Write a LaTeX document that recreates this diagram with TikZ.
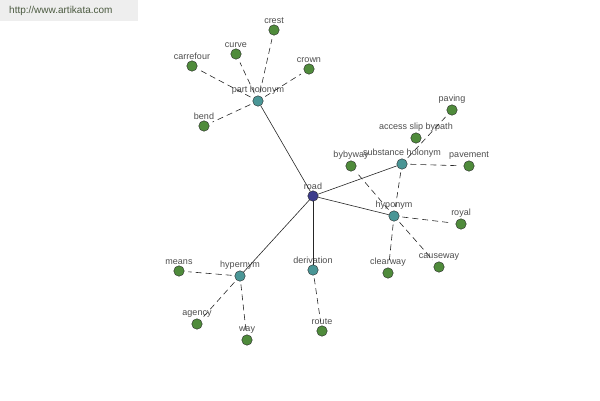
\documentclass[tikz,border=0pt]{standalone}
\usepackage{fontspec}
\setmainfont{Liberation Sans}
\usepackage{xcolor}
\definecolor{leafgreen}{HTML}{4F8B3B}
\definecolor{hubteal}{HTML}{4A9696}
\definecolor{rootblue}{HTML}{3C3C8C}
\definecolor{markgrey}{HTML}{EEEEEE}
\definecolor{marktext}{HTML}{4B5A40}
\tikzset{
    wtext/.style={font=\fontsize{9}{10}\selectfont, text=black!70, inner sep=0.8pt},
    dot/.style={circle, draw=black!85, thin, minimum size=10.5pt, inner sep=0pt,
        label={[wtext, label distance=0pt]above:#1}},
    leaf/.style={dot=#1, fill=leafgreen},
    hub/.style={dot=#1, fill=hubteal},
    rootdot/.style={dot=#1, fill=rootblue},
    rel/.style={black!85, line width=0.6pt},
    sub/.style={black!85, line width=0.6pt, dash pattern=on 6pt off 4pt, shorten >=4pt, shorten <=3pt}
}

\begin{document}
\begin{tikzpicture}[x=1pt, y=-1pt]
    \useasboundingbox (0,0) rectangle (600,400);
    % watermark
    \fill[markgrey] (0,0) rectangle (138,21);
    \node[anchor=west, font=\fontsize{10}{11}\selectfont, text=marktext, inner sep=0pt] (mark) at (9,11) {http://www.artikata.com};
    % root and relation hubs
    \node[rootdot=road] (road) at (313,196) {};
    \node[hub=part holonym] (phol) at (258,101) {};
    \node[hub=substance holonym] (shol) at (402,164) {};
    \node[hub=hyponym] (hypo) at (394,216) {};
    \node[hub=hypernym] (hyper) at (240,276) {};
    \node[hub=derivation] (deriv) at (313,270) {};
    % words
    \foreach \n/\x/\y/\t in {crest/274/30/crest, curve/236/54/curve, carrefour/192/66/carrefour,
        crown/309/69/crown, bend/204/126/bend, paving/452/110/paving,
        access/416/138/access slip bypath, pavement/469/166/pavement, byby/351/166/bybyway,
        royal/461/224/royal, causeway/439/267/causeway, clearway/388/273/clearway,
        means/179/271/means, agency/197/324/agency, way/247/340/way, route/322/331/route} {
        \node[leaf=\t] (\n) at (\x,\y) {};
    }
    % relations
    \foreach \h in {phol, shol, hypo, hyper, deriv} {
        \draw[rel] (road) -- (\h);
    }
    \foreach \h/\w in {phol/crest, phol/curve, phol/carrefour, phol/crown, phol/bend,
        shol/paving, shol/pavement, shol/hypo, hypo/byby, hypo/royal, hypo/causeway,
        hypo/clearway, hyper/means, hyper/agency, hyper/way, deriv/route} {
        \draw[sub] (\h) -- (\w);
    }
\end{tikzpicture}
\end{document}
